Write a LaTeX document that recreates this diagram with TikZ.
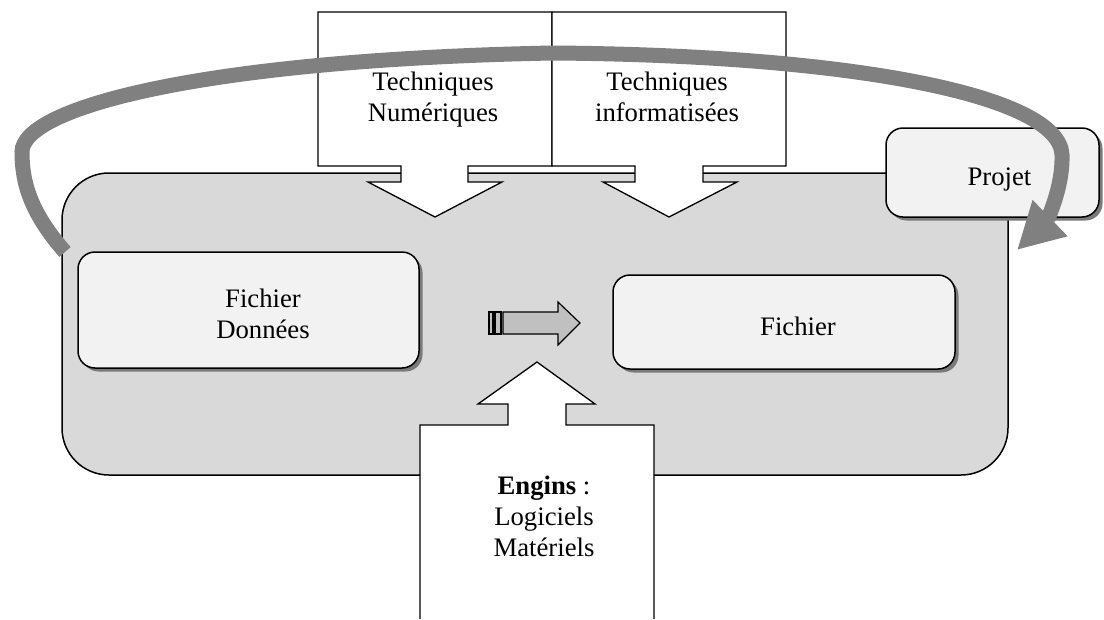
\documentclass[tikz,border=0pt]{standalone}
\usepackage{fontspec}
\setmainfont{Liberation Serif}
\usetikzlibrary{arrows.meta,shadows}
\definecolor{panel}{HTML}{D9D9D9}
\definecolor{boxfill}{HTML}{F2F2F2}
\definecolor{arcgray}{HTML}{808080}
\definecolor{shadowgray}{HTML}{7A7A7A}
\definecolor{smallarrow}{HTML}{C0C0C0}
\begin{document}
\begin{tikzpicture}[x=1pt,y=-1pt,
  txt/.style={font=\fontsize{26.7}{31}\selectfont, align=center, inner sep=0pt},
  panelbox/.style={draw, line width=1.5pt, fill=panel, rounded corners=47pt, inner sep=0pt},
  roundbox/.style={draw, line width=1.5pt, fill=boxfill, rounded corners=17pt, inner sep=0pt,
    drop shadow={shadow xshift=3.5pt, shadow yshift=-3.5pt, fill=shadowgray, opacity=1}},
  callout/.style={draw, line width=1.3pt, fill=white},
  bigarc/.style={arcgray, line width=15pt, -{Triangle[width=47pt,length=46pt]}},
  blockarrow/.style={draw, line width=1.2pt, fill=smallarrow}]
\useasboundingbox (0,0) rectangle (1104,619);

% main panel
\node[panelbox, minimum width=946pt, minimum height=302pt] (panel) at (535,324) {};

% top callouts
\draw[callout] (318,12) -- (552,12) -- (552,166) -- (468,166) -- (468,182) -- (502,182)
  -- (435,217) -- (368,182) -- (401,182) -- (401,166) -- (318,166) -- cycle;
\draw[callout] (552,12) -- (786,12) -- (786,166) -- (703,166) -- (703,182) -- (737,182)
  -- (669,217) -- (603,182) -- (635,182) -- (635,166) -- (552,166) -- cycle;
\node[txt] (tnum) at (433,100) {Techniques\\Numériques};
\node[txt] (tinf) at (667,97) {Techniques\\informatisées};

% bottom callout
\fill[white] (420,619) -- (420,425) -- (508,425) -- (508,404) -- (478,404) -- (537,362)
  -- (595,404) -- (566,404) -- (566,425) -- (654,425) -- (654,619) -- cycle;
\draw[line width=1.3pt] (420,619) -- (420,425) -- (508,425) -- (508,404) -- (478,404) -- (537,362)
  -- (595,404) -- (566,404) -- (566,425) -- (654,425) -- (654,619);
\node[txt] (engins) at (544,516) {\textbf{Engins} :\\Logiciels\\Matériels};

% boxes
\node[roundbox, minimum width=341pt, minimum height=116pt] (fdbox) at (248.5,310) {};
\node[txt] (fdtext) at (263,314) {Fichier\\Données};
\node[roundbox, minimum width=342pt, minimum height=94pt] (fbox) at (784,322) {};
\node[txt] (ftext) at (798,326) {Fichier};
\node[roundbox, minimum width=213pt, minimum height=89pt] (pbox) at (992.5,172.5) {};
\node[txt] (ptext) at (999.5,179) {Projet};

% small block arrow
\draw[blockarrow] (489,312) rectangle (493,334);
\draw[blockarrow] (495,312) rectangle (501,334);
\draw[blockarrow] (503,312) -- (558,312) -- (558,302) -- (580,323) -- (558,345) -- (558,334)
  -- (503,334) -- cycle;

% big grey arc
\coordinate (arcstart) at (65,252);
\coordinate (arctip) at (1017,250);
\draw[bigarc] (arcstart) .. controls (30,212) and (22,182) .. (22,152)
  .. controls (22,108) and (200,60) .. (552,53)
  .. controls (850,55) and (1060,95) .. (1062,155)
  .. controls (1063,190) and (1045,223) .. (arctip);
\end{tikzpicture}
\end{document}
